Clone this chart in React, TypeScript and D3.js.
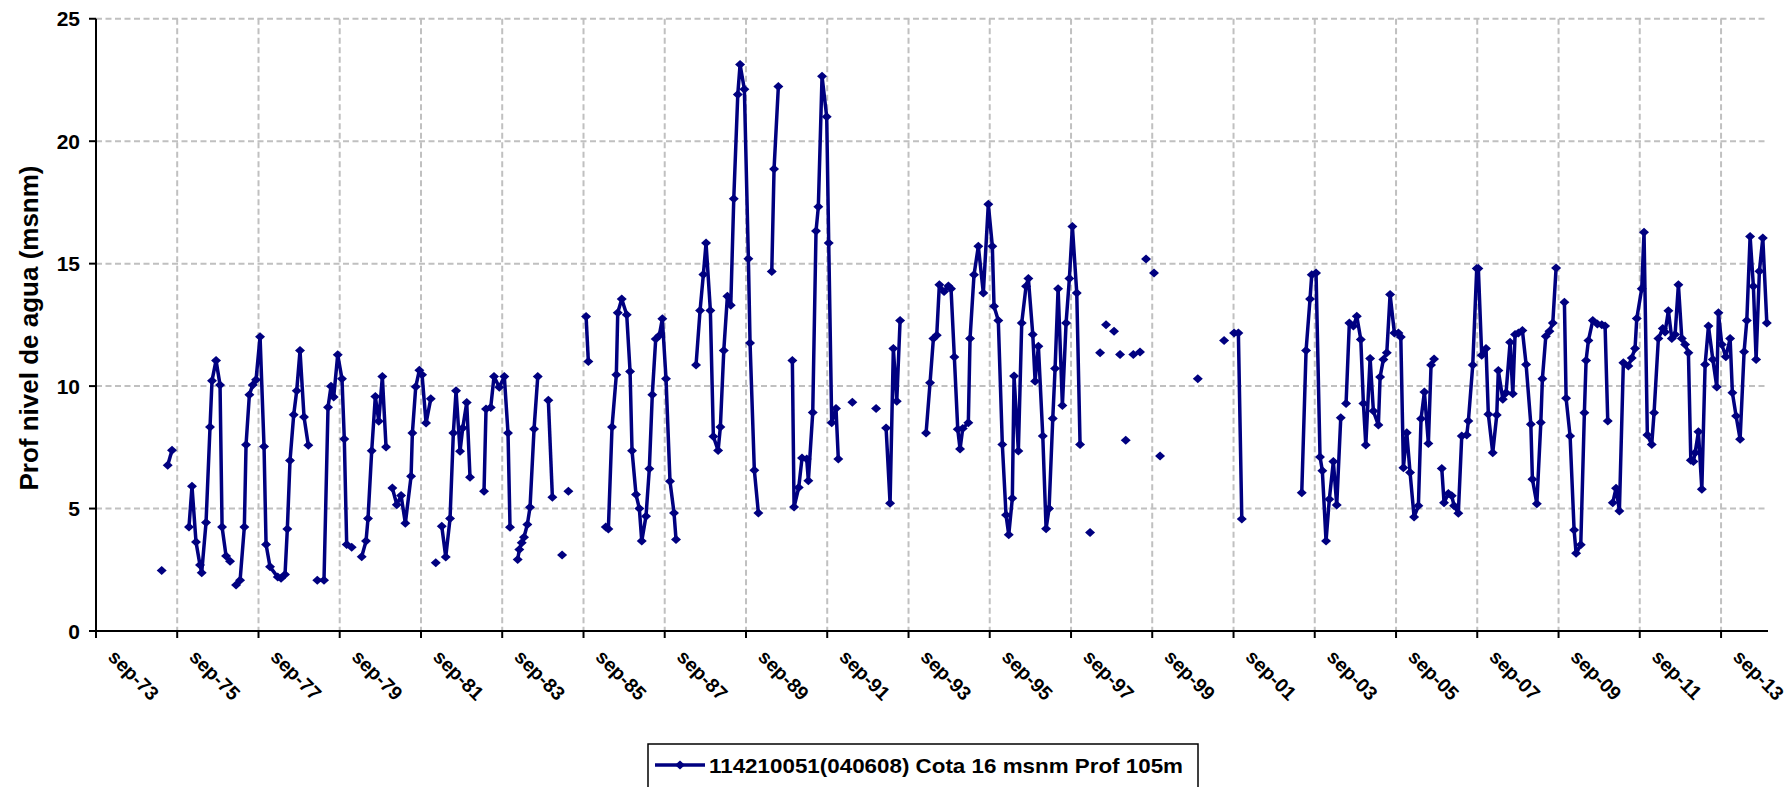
import React from "react";
import * as d3 from "d3";

type Obs = [number, number]; // [decimal year, level]

// ---------- DATA ----------
const yTickValues = [0, 5, 10, 15, 20, 25];
const xTickLabels = [
  "sep-73", "sep-75", "sep-77", "sep-79", "sep-81", "sep-83", "sep-85",
  "sep-87", "sep-89", "sep-91", "sep-93", "sep-95", "sep-97", "sep-99",
  "sep-01", "sep-03", "sep-05", "sep-07", "sep-09", "sep-11", "sep-13",
];
const yAxisTitle = "Prof nivel de agua (msnm)";
const seriesLabel = "114210051(040608) Cota 16 msnm Prof 105m";

// each array = one run of consecutive readings (gaps between runs)
const run1975a: Obs[] = [[1975.284, 2.47]];
const run1975b: Obs[] = [[1975.432, 6.77], [1975.538, 7.38]];
const run1975c: Obs[] = [
  [1975.956, 4.25], [1976.03, 5.91], [1976.129, 3.63], [1976.227, 2.69], [1976.269, 2.38],
  [1976.375, 4.43], [1976.473, 8.33], [1976.522, 10.22], [1976.621, 11.05], [1976.719, 10.05],
  [1976.769, 4.25], [1976.867, 3.06], [1976.965, 2.85],
];
const run1977: Obs[] = [
  [1977.113, 1.88], [1977.212, 2.07], [1977.317, 4.25], [1977.359, 7.61], [1977.441, 9.65],
  [1977.524, 10.05], [1977.605, 10.26], [1977.704, 12.02], [1977.802, 7.53], [1977.852, 3.53],
  [1977.95, 2.62], [1978.14, 2.2], [1978.221, 2.15], [1978.319, 2.31], [1978.376, 4.17],
  [1978.442, 6.96], [1978.533, 8.83], [1978.607, 9.81], [1978.688, 11.45], [1978.787, 8.74],
  [1978.893, 7.58],
];
const run1979: Obs[] = [
  [1979.114, 2.07], [1979.279, 2.07], [1979.378, 9.14], [1979.452, 9.99], [1979.518, 9.55],
  [1979.617, 11.28], [1979.722, 10.3], [1979.779, 7.84], [1979.838, 3.53], [1979.961, 3.42],
];
const run1980: Obs[] = [
  [1980.207, 3.03], [1980.313, 3.67], [1980.362, 4.59], [1980.453, 7.36], [1980.542, 9.58],
  [1980.626, 8.56], [1980.714, 10.39], [1980.805, 7.51],
];
const run1981: Obs[] = [
  [1980.96, 5.84], [1981.069, 5.16], [1981.175, 5.53], [1981.28, 4.4], [1981.421, 6.32],
  [1981.453, 8.08], [1981.536, 9.97], [1981.625, 10.65], [1981.692, 10.46], [1981.79, 8.49],
  [1981.906, 9.48],
];
const run1982a: Obs[] = [[1982.029, 2.79]];
const run1982b: Obs[] = [
  [1982.177, 4.28], [1982.275, 3.02], [1982.381, 4.59], [1982.462, 8.08], [1982.529, 9.81],
  [1982.627, 7.34], [1982.693, 8.29], [1982.792, 9.33], [1982.873, 6.28],
];
const run1983: Obs[] = [
  [1983.218, 5.71], [1983.267, 9.06], [1983.383, 9.13], [1983.464, 10.39], [1983.594, 9.95],
  [1983.718, 10.39], [1983.809, 8.08], [1983.858, 4.24],
];
const run1984a: Obs[] = [
  [1984.047, 2.92], [1984.087, 3.33], [1984.146, 3.6], [1984.202, 3.83], [1984.284, 4.35],
  [1984.35, 5.05], [1984.449, 8.25], [1984.54, 10.39],
];
const run1984b: Obs[] = [[1984.8, 9.42], [1984.899, 5.46]];
const run1985a: Obs[] = [[1985.138, 3.1]];
const run1985b: Obs[] = [[1985.293, 5.71]];
const run1985c: Obs[] = [[1985.729, 12.84], [1985.785, 11.0]];
const run1986: Obs[] = [
  [1986.214, 4.25], [1986.278, 4.17], [1986.368, 8.33], [1986.474, 10.46], [1986.509, 13.0],
  [1986.607, 13.56], [1986.73, 12.91], [1986.812, 10.6], [1986.861, 7.36], [1986.959, 5.57],
  [1987.041, 5.0], [1987.1, 3.67], [1987.205, 4.69], [1987.287, 6.63], [1987.36, 9.65],
  [1987.444, 11.92], [1987.533, 12.07], [1987.607, 12.75], [1987.698, 10.3], [1987.796, 6.11],
  [1987.895, 4.82], [1987.944, 3.74],
];
const run1988: Obs[] = [
  [1988.436, 10.86], [1988.535, 13.09], [1988.616, 14.56], [1988.682, 15.84], [1988.788, 13.09],
  [1988.862, 7.94], [1988.978, 7.37], [1989.034, 8.33], [1989.118, 11.45], [1989.207, 13.67],
  [1989.29, 13.3], [1989.364, 17.65], [1989.463, 21.91], [1989.519, 23.13], [1989.625, 22.12],
  [1989.724, 15.2], [1989.765, 11.76], [1989.871, 6.56], [1989.97, 4.82],
];
const run1990a: Obs[] = [[1990.3, 14.68], [1990.356, 18.86], [1990.462, 22.23]];
const run1990b: Obs[] = [
  [1990.807, 11.05], [1990.849, 5.06], [1990.964, 5.86], [1991.045, 7.06], [1991.161, 7.02],
  [1991.201, 6.14], [1991.309, 8.92], [1991.39, 16.33], [1991.447, 17.32], [1991.538, 22.65],
  [1991.653, 21.0], [1991.703, 15.84], [1991.776, 8.5], [1991.882, 9.09], [1991.939, 7.02],
];
const run1992a: Obs[] = [[1992.284, 9.34]];
const run1992b: Obs[] = [[1992.867, 9.09]];
const run1993: Obs[] = [
  [1993.113, 8.29], [1993.211, 5.22], [1993.292, 11.54], [1993.376, 9.38], [1993.458, 12.68],
];
const run1994: Obs[] = [
  [1994.098, 8.08], [1994.196, 10.14], [1994.278, 11.94], [1994.361, 12.08], [1994.425, 14.14],
  [1994.541, 13.86], [1994.647, 14.09], [1994.713, 13.97], [1994.794, 11.19], [1994.878, 8.24],
  [1994.935, 7.43], [1995.001, 8.27], [1995.139, 8.5], [1995.181, 11.94], [1995.279, 14.55],
  [1995.385, 15.71], [1995.508, 13.8], [1995.631, 17.43], [1995.73, 15.71], [1995.772, 13.26],
  [1995.877, 12.68], [1995.976, 7.62], [1996.067, 4.74], [1996.134, 3.93], [1996.222, 5.42],
  [1996.264, 10.41], [1996.37, 7.35], [1996.453, 12.58], [1996.559, 14.08], [1996.616, 14.39],
  [1996.724, 12.11], [1996.781, 10.2], [1996.862, 11.63], [1996.97, 7.96], [1997.051, 4.18],
  [1997.125, 5.0], [1997.216, 8.68], [1997.273, 10.72], [1997.347, 13.98], [1997.453, 9.21],
  [1997.544, 12.58], [1997.625, 14.39], [1997.699, 16.52], [1997.807, 13.8], [1997.888, 7.62],
];
const isolated1998: Obs[] = [
  [1998.134, 4.02], [1998.381, 11.36], [1998.528, 12.51], [1998.725, 12.24], [1998.873, 11.29],
  [1999.013, 7.79], [1999.2, 11.29], [1999.365, 11.39], [1999.513, 15.19], [1999.71, 14.62],
  [1999.858, 7.15], [2000.786, 10.3], [2001.433, 11.86],
];
const run2001: Obs[] = [[2001.679, 12.17], [2001.785, 12.17], [2001.869, 4.57]];
const run2003: Obs[] = [
  [2003.346, 5.65], [2003.452, 11.45], [2003.55, 13.56], [2003.592, 14.55], [2003.698, 14.62],
  [2003.796, 7.11], [2003.853, 6.54], [2003.944, 3.67], [2004.025, 5.38], [2004.124, 6.92],
  [2004.207, 5.14], [2004.306, 8.71],
];
const run2004: Obs[] = [
  [2004.436, 9.29], [2004.517, 12.58], [2004.616, 12.45], [2004.7, 12.85], [2004.798, 11.9],
  [2004.862, 9.29], [2004.921, 7.6], [2005.027, 11.13], [2005.108, 8.98], [2005.231, 8.41],
  [2005.273, 10.37], [2005.354, 11.09], [2005.438, 11.36], [2005.519, 13.74], [2005.625, 12.17],
  [2005.724, 12.17], [2005.783, 12.0], [2005.847, 6.67], [2005.93, 8.1], [2006.011, 6.47],
  [2006.11, 4.66], [2006.216, 5.11], [2006.282, 8.67], [2006.364, 9.76], [2006.462, 7.66],
  [2006.528, 10.86], [2006.602, 11.11],
];
const run2006: Obs[] = [
  [2006.792, 6.64], [2006.848, 5.24], [2006.954, 5.61], [2007.038, 5.52], [2007.095, 5.11],
  [2007.2, 4.81], [2007.284, 7.96], [2007.407, 8.0], [2007.447, 8.57], [2007.555, 10.86],
  [2007.653, 14.8], [2007.693, 14.8], [2007.776, 11.26], [2007.882, 11.54], [2007.939, 8.85],
  [2008.047, 7.28], [2008.146, 8.82], [2008.185, 10.64], [2008.294, 9.46], [2008.375, 9.73],
  [2008.473, 11.79], [2008.54, 9.69], [2008.596, 12.11], [2008.678, 12.17], [2008.776, 12.27],
  [2008.867, 10.88], [2008.983, 8.44], [2009.022, 6.2], [2009.131, 5.2], [2009.229, 8.51],
  [2009.268, 10.3], [2009.352, 12.04], [2009.441, 12.24], [2009.524, 12.58], [2009.605, 14.82],
];
const run2009: Obs[] = [
  [2009.81, 13.42], [2009.852, 9.5], [2009.95, 7.96], [2010.049, 4.12], [2010.098, 3.17],
  [2010.213, 3.52], [2010.302, 8.91], [2010.344, 11.05], [2010.401, 11.86], [2010.509, 12.68],
  [2010.622, 12.54], [2010.73, 12.51], [2010.812, 12.45], [2010.878, 8.57],
];
const run2011: Obs[] = [
  [2011.001, 5.24], [2011.082, 5.83], [2011.164, 4.9], [2011.262, 10.95], [2011.385, 10.82],
  [2011.469, 11.15], [2011.55, 11.54], [2011.592, 12.76], [2011.715, 13.98], [2011.771, 16.28],
  [2011.853, 8.0], [2011.961, 7.62], [2012.018, 8.91], [2012.124, 11.94], [2012.232, 12.35],
  [2012.289, 12.21], [2012.37, 13.08], [2012.454, 11.94], [2012.535, 12.11], [2012.616, 14.14],
  [2012.7, 11.94], [2012.781, 11.7], [2012.862, 11.36], [2012.921, 6.97], [2012.985, 6.92],
  [2013.027, 7.28], [2013.108, 8.14], [2013.192, 5.79], [2013.273, 10.88], [2013.355, 12.45],
  [2013.463, 11.09], [2013.561, 9.96], [2013.601, 12.99], [2013.684, 11.7], [2013.783, 11.2],
  [2013.889, 11.94], [2013.945, 9.73], [2014.036, 8.78], [2014.135, 7.83], [2014.233, 11.4],
  [2014.3, 12.68], [2014.381, 16.11], [2014.462, 14.08], [2014.529, 11.09], [2014.61, 14.69],
  [2014.694, 16.05], [2014.793, 12.58],
];

const runs: Obs[][] = [
  run1975a, run1975b, run1975c, run1977, run1979, run1980, run1981, run1982a, run1982b,
  run1983, run1984a, run1984b, run1985a, run1985b, run1985c, run1986, run1988, run1990a,
  run1990b, run1992a, run1992b, run1993, run1994, run2001, run2003, run2004, run2006,
  run2009, run2011,
];
const isolated: Obs[][] = isolated1998.map((p) => [p]);

// ---------- LAYOUT ----------
const W = 1792;
const H = 787;
const PLOT_L = 96;
const PLOT_R = 1768;
const PLOT_T = 18.75;
const PLOT_B = 631;
const NAVY = "#000080";
const FONT = "'Liberation Sans', Arial, Helvetica, sans-serif";

const toDate = (yr: number) => {
  const y0 = Math.floor(yr);
  const a = Date.UTC(y0, 0, 1);
  const b = Date.UTC(y0 + 1, 0, 1);
  return new Date(a + (yr - y0) * (b - a));
};

const tickDates = xTickLabels.map((_, i) => new Date(Date.UTC(1973 + 2 * i, 8, 1)));

const x = d3
  .scaleTime()
  .domain([new Date(Date.UTC(1973, 8, 1)), new Date(Date.UTC(2014, 9, 28))])
  .range([PLOT_L, PLOT_R]);
const y = d3.scaleLinear().domain([0, 25]).range([PLOT_B, PLOT_T]);

const line = d3
  .line<Obs>()
  .x((d) => x(toDate(d[0])))
  .y((d) => y(d[1]));

const diamond = (cx: number, cy: number, rx = 5, ry = 4.5) =>
  `M${cx},${cy - ry}L${cx + rx},${cy}L${cx},${cy + ry}L${cx - rx},${cy}Z`;

export default function App() {
  const allRuns = [...runs, ...isolated];
  return (
    <svg
      width={W}
      height={H}
      viewBox={`0 0 ${W} ${H}`}
      style={{ position: "absolute", left: 0, top: 0, background: "#fff" }}
      fontFamily={FONT}
    >
      <rect x={0} y={0} width={W} height={H} fill="#fff" />
      {/* horizontal grid */}
      {yTickValues
        .filter((v) => v > 0)
        .map((v) => (
          <line
            key={"hg" + v}
            x1={PLOT_L}
            x2={PLOT_R}
            y1={y(v)}
            y2={y(v)}
            stroke="#c0c0c0"
            strokeWidth={2}
            strokeDasharray="6,3.5"
          />
        ))}
      {/* vertical grid */}
      {tickDates.slice(1).map((d, i) => (
        <line
          key={"vg" + i}
          x1={x(d)}
          x2={x(d)}
          y1={PLOT_T}
          y2={PLOT_B}
          stroke="#c0c0c0"
          strokeWidth={2}
          strokeDasharray="6,3.5"
        />
      ))}
      {/* axes */}
      <line x1={PLOT_L} x2={PLOT_L} y1={PLOT_T} y2={PLOT_B} stroke="#000" strokeWidth={2} />
      <line x1={PLOT_L} x2={PLOT_R} y1={PLOT_B} y2={PLOT_B} stroke="#000" strokeWidth={2} />
      {yTickValues.map((v) => (
        <g key={"yt" + v}>
          <line x1={PLOT_L - 7} x2={PLOT_L} y1={y(v)} y2={y(v)} stroke="#000" strokeWidth={2} />
          <text
            x={80}
            y={y(v)}
            dy="0.36em"
            textAnchor="end"
            fontSize={21}
            fontWeight="bold"
            fill="#000"
          >
            {v}
          </text>
        </g>
      ))}
      {tickDates.map((d, i) => (
        <g key={"xt" + i}>
          <line x1={x(d)} x2={x(d)} y1={PLOT_B} y2={PLOT_B + 7} stroke="#000" strokeWidth={2} />
          <text
            transform={`translate(${x(d) + 11},${PLOT_B + 27}) rotate(45)`}
            fontSize={19.5}
            fontWeight="bold"
            fill="#000"
          >
            {xTickLabels[i]}
          </text>
        </g>
      ))}
      <text
        transform={`translate(38,328) rotate(-90)`}
        textAnchor="middle"
        fontSize={26}
        fontWeight="bold"
        fill="#000"
      >
        {yAxisTitle}
      </text>
      {/* series */}
      {runs.map((r, i) =>
        r.length > 1 ? (
          <path
            key={"ln" + i}
            d={line(r) || ""}
            fill="none"
            stroke={NAVY}
            strokeWidth={3.5}
            strokeLinejoin="round"
          />
        ) : null
      )}
      {allRuns.map((r, i) =>
        r.map((p, j) => (
          <path key={"mk" + i + "_" + j} d={diamond(x(toDate(p[0])), y(p[1]))} fill={NAVY} />
        ))
      )}
      {/* legend */}
      <rect x={648} y={744} width={550} height={60} fill="#fff" stroke="#000" strokeWidth={1.5} />
      <line x1={655} x2={705} y1={765} y2={765} stroke={NAVY} strokeWidth={3.5} />
      <path d={diamond(680, 765)} fill={NAVY} />
      <text x={709} y={773} fontSize={21} fontWeight="bold" fill="#000" textLength={474} lengthAdjust="spacingAndGlyphs">
        {seriesLabel}
      </text>
    </svg>
  );
}
